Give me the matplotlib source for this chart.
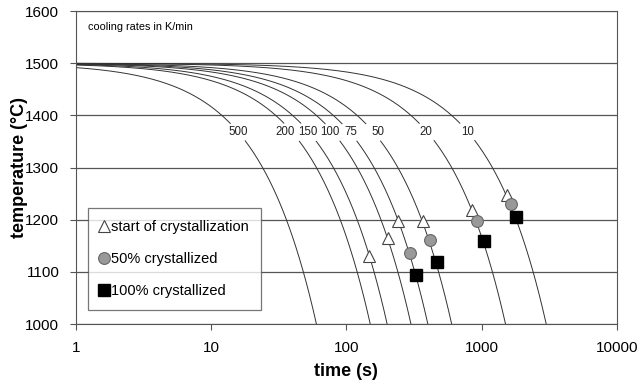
import numpy as np
import matplotlib
matplotlib.use("Agg")
import matplotlib.pyplot as plt

plt.rcParams['font.family'] = ['Liberation Sans', 'DejaVu Sans']

# cooling rates (K/min) starting from 1500 °C
rates = [500, 200, 150, 100, 75, 50, 20, 10]
t_start = 1500
label_temp = 1368

# crystallization points (time s, temperature °C)
start_t = [147, 203, 240, 368, 847, 1537]
start_T = [1130, 1165, 1197, 1197, 1219, 1247]
half_t = [295, 414, 922, 1645]
half_T = [1136, 1161, 1197, 1230]
full_t = [326, 467, 1040, 1791]
full_T = [1094, 1119, 1159, 1205]

# small horizontal nudges (points) so the rate labels don't collide
label_nudge = {500: 0, 200: -5, 150: -1, 100: -2, 75: 1, 50: 3, 20: -1, 10: 0}

fig, ax = plt.subplots(figsize=(6.38, 3.83), dpi=100)
fig.subplots_adjust(left=0.119, right=0.967, top=0.971, bottom=0.154)

t = np.logspace(0, 4, 800)
for r in rates:
    T = t_start - r * t / 60.0
    # break the curve where the rate label sits
    upper = T > label_temp + 16
    lower = T < label_temp - 16
    ax.plot(t[upper], T[upper], color='#333333', lw=0.7, zorder=2)
    ax.plot(t[lower], T[lower], color='#333333', lw=0.7, zorder=2)
    tl = (t_start - label_temp) * 60.0 / r
    ax.annotate(str(r), (tl, label_temp), xytext=(label_nudge[r], 0),
                textcoords='offset points', ha='center', va='center',
                fontsize=8.3, color='#222222', zorder=3)

ax.plot(start_t, start_T, ls='none', marker='^', ms=9, mfc='white',
        mec='#444444', mew=0.8, label='start of crystallization', zorder=4)
ax.plot(half_t, half_T, ls='none', marker='o', ms=8.5, mfc='#999999',
        mec='#666666', mew=0.8, label='50% crystallized', zorder=4)
ax.plot(full_t, full_T, ls='none', marker='s', ms=8.5, mfc='black',
        mec='black', label='100% crystallized', zorder=4)

ax.set_xscale('log')
ax.set_xlim(1, 10000)
ax.set_ylim(1000, 1600)
ax.set_yticks(range(1000, 1601, 100))
ax.set_xticks([1, 10, 100, 1000, 10000])
ax.set_xticklabels(['1', '10', '100', '1000', '10000'])
ax.minorticks_off()
ax.tick_params(labelsize=11, length=4, color='#555555', pad=8)
ax.grid(axis='y', color='#555555', lw=0.9)
for s in ax.spines.values():
    s.set_color('#555555')

ax.set_xlabel('time (s)', fontsize=13, fontweight='bold', labelpad=6)
ax.set_ylabel('temperature (°C)', fontsize=13, fontweight='bold', labelpad=-2)

ax.text(0.022, 0.95, 'cooling rates in K/min', transform=ax.transAxes,
        fontsize=7.8, va='center')

leg = ax.legend(loc='lower left', bbox_to_anchor=(0.022, 0.045), fontsize=10.5,
                frameon=True, fancybox=False, edgecolor='#555555',
                labelspacing=1.25, handlelength=0.6, handletextpad=0.2,
                borderpad=0.8, borderaxespad=0)
leg.get_frame().set_linewidth(0.9)

fig.savefig('out.png', dpi=100)
